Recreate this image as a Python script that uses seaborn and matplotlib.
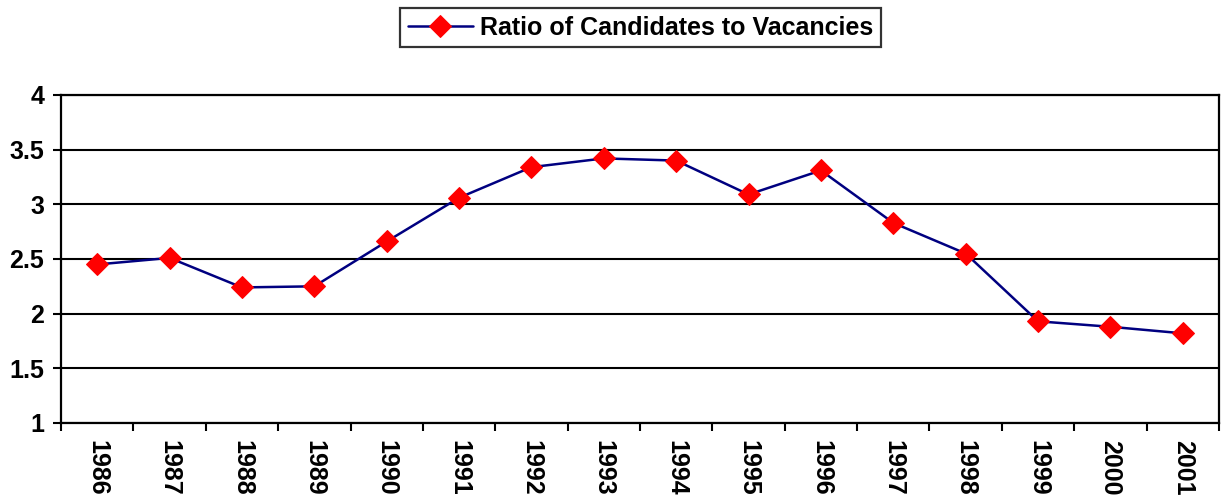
import pandas as pd
import matplotlib.pyplot as plt
import seaborn as sns
from matplotlib.ticker import FixedLocator, MultipleLocator, FormatStrFormatter

anos = ["1986", "1987", "1988", "1989", "1990", "1991", "1992", "1993",
        "1994", "1995", "1996", "1997", "1998", "1999", "2000", "2001"]
razao = [2.45, 2.51, 2.24, 2.25, 2.66, 3.06, 3.34, 3.42,
         3.40, 3.09, 3.31, 2.83, 2.55, 1.93, 1.88, 1.82]
serie = "Ratio of Candidates to Vacancies"

df = pd.DataFrame({"ano": anos, "razao": razao})
df["pos"] = range(len(anos))

sns.set_style("white")
plt.rcParams["font.family"] = ["Liberation Sans", "DejaVu Sans"]
plt.rcParams["font.weight"] = "bold"
plt.rcParams["text.color"] = "black"
plt.rcParams["xtick.color"] = "black"
plt.rcParams["ytick.color"] = "black"

fig = plt.figure(figsize=(12.25, 5.01), dpi=100)
ax = fig.add_axes([0.0498, 0.1557, 0.9453, 0.6547])

sns.lineplot(data=df, x="pos", y="razao", ax=ax, color="#000080", linewidth=1.8,
             marker="D", markersize=11, markerfacecolor="red", markeredgecolor="red",
             label=serie, zorder=3)

ax.set_xlim(-0.5, len(anos) - 0.5)
ax.set_ylim(1, 4)
ax.yaxis.set_major_locator(MultipleLocator(0.5))
ax.yaxis.set_major_formatter(FormatStrFormatter("%g"))
ax.grid(axis="y", color="black", linewidth=1.5)
ax.grid(axis="x", visible=False)

ax.set_xticks(df["pos"])
ax.set_xticklabels(anos, rotation=-90, fontsize=18, fontweight="bold", color="black")
ax.xaxis.set_minor_locator(FixedLocator([i - 0.5 for i in range(len(anos) + 1)]))
ax.tick_params(axis="x", which="major", length=0, pad=12)
ax.tick_params(axis="x", which="minor", length=6, width=1.5, color="black", bottom=True)
ax.tick_params(axis="y", length=6, width=1.5, color="black", left=True, pad=6, labelsize=18)
for lab in ax.get_yticklabels():
    lab.set_fontweight("bold")
    lab.set_color("black")

for s in ax.spines.values():
    s.set_color("black")
    s.set_linewidth(1.6)

ax.set_xlabel("")
ax.set_ylabel("")

leg = ax.legend(loc="center", bbox_to_anchor=(0.523, 0.945), bbox_transform=fig.transFigure,
                frameon=True, fancybox=False, prop={"size": 18, "weight": "bold"},
                handlelength=2.6, borderpad=0.3, handletextpad=0.3)
leg.get_frame().set_edgecolor("black")
leg.get_frame().set_linewidth(1.6)
for t in leg.get_texts():
    t.set_color("black")

plt.savefig("out.png", dpi=100)
plt.close()
